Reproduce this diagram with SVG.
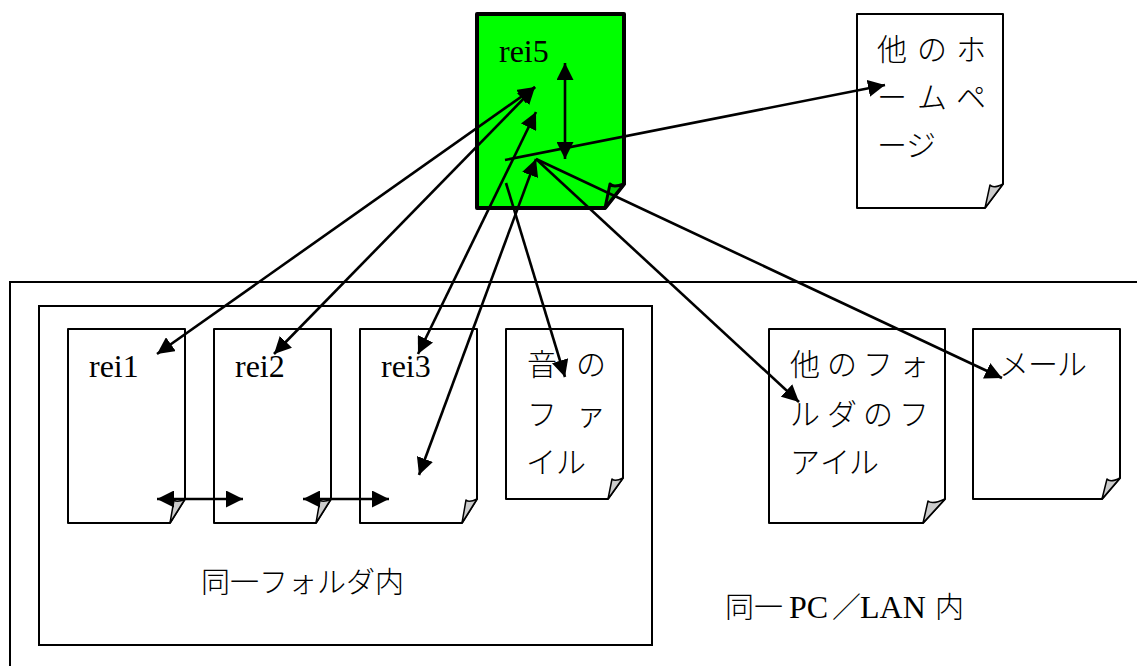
<svg xmlns="http://www.w3.org/2000/svg" width="1137" height="666" viewBox="0 0 1137 666">
<style>
.page{fill:#fff;stroke:#000;stroke-width:2;stroke-linejoin:round}
.fold{fill:#ccc;stroke:#000;stroke-width:1.5;stroke-linejoin:round}
.frame{fill:#fff;stroke:#000;stroke-width:2}
.conn{fill:none;stroke:#000;stroke-width:2.6}
text{font-size:28px;fill:#000;font-family:"Liberation Serif","Noto Sans CJK JP",serif}
.ja{font-family:"Noto Sans CJK JP",sans-serif;font-weight:300;font-size:30px}
.ja2{font-family:"Noto Sans CJK JP",sans-serif;font-weight:300;font-size:29px}
.la{font-size:32px}
</style>
<defs>
<marker id="h" markerUnits="userSpaceOnUse" markerWidth="18" markerHeight="17" refX="17" refY="8.5" orient="auto-start-reverse"><path d="M0 0L17 8.5L0 17Z" fill="#000"/></marker>
</defs>
<rect width="1137" height="666" fill="#fff"/>
<g id="lan-frame"><path class="frame" d="M1137 282H10V666" fill="none"/><text class="ja2" x="725" y="618">同一</text><text class="la" x="789" y="618">PC</text><text class="ja2" x="832" y="618">／</text><text class="la" x="860" y="618">LAN</text><text class="ja2" x="935" y="618">内</text></g>
<g id="folder-frame"><rect class="frame" x="39" y="306" width="613" height="339"/><text class="ja2" x="201" y="593">同一フォルダ内</text></g>
<g id="rei5"><path class="page" style="fill:#0f0;stroke-width:4" d="M477 14H624V184L605 208H477Z"/><path class="fold" style="fill:#0c0;stroke-width:3" d="M605 208L610 184Q613 188 624 184Z"/><text class="la" x="499" y="62">rei5</text></g>
<g id="other-homepage"><path class="page" d="M857 14H1003V184L985 208H857Z"/><path class="fold" d="M985 208L990 185Q993 189 1003 184Z"/><text class="ja"><tspan x="877" y="60">他</tspan><tspan x="917" y="60">の</tspan><tspan x="956" y="60">ホ</tspan><tspan x="877" y="108">ー</tspan><tspan x="917" y="108">ム</tspan><tspan x="956" y="108">ペ</tspan><tspan x="877" y="156">ー</tspan><tspan x="906" y="156">ジ</tspan></text></g>
<g id="rei1"><path class="page" d="M68 329H185V499L170 523H68Z"/><path class="fold" d="M170 523L174 500Q177 503 185 499Z"/><text class="la" x="89" y="377">rei1</text></g>
<g id="rei2"><path class="page" d="M214 329H331V499L316 523H214Z"/><path class="fold" d="M316 523L320 500Q323 503 331 499Z"/><text class="la" x="235" y="377">rei2</text></g>
<g id="rei3"><path class="page" d="M360 329H477V499L462 523H360Z"/><path class="fold" d="M462 523L466 500Q469 503 477 499Z"/><text class="la" x="381" y="377">rei3</text></g>
<g id="sound-file"><path class="page" d="M506 329H623V478L608 499H506Z"/><path class="fold" d="M608 499L612 479Q615 482 623 478Z"/><text class="ja"><tspan x="527" y="375">音</tspan><tspan x="576" y="375">の</tspan><tspan x="527" y="425">フ</tspan><tspan x="576" y="425">ァ</tspan><tspan x="526" y="473">イ</tspan><tspan x="556" y="473">ル</tspan></text></g>
<g id="other-folder-file"><path class="page" d="M769 329H945V499L923 523H769Z"/><path class="fold" d="M923 523L928 501Q932 505 945 499Z"/><text class="ja"><tspan x="790" y="375">他</tspan><tspan x="827" y="375">の</tspan><tspan x="863" y="375">フ</tspan><tspan x="899" y="375">ォ</tspan><tspan x="790" y="425">ル</tspan><tspan x="827" y="425">ダ</tspan><tspan x="863" y="425">の</tspan><tspan x="899" y="425">フ</tspan><tspan x="790" y="473">ア</tspan><tspan x="820" y="473">イ</tspan><tspan x="849" y="473">ル</tspan></text></g>
<g id="mail"><path class="page" d="M973 329H1120V478L1102 499H973Z"/><path class="fold" d="M1102 499L1107 479Q1110 483 1120 478Z"/><text class="ja"><tspan x="999" y="375">メ</tspan><tspan x="1028" y="375">ー</tspan><tspan x="1057" y="375">ル</tspan></text></g>
<g id="connectors">
<path class="conn" marker-start="url(#h)" marker-end="url(#h)" d="M157 354L535 87"/>
<path class="conn" marker-start="url(#h)" marker-end="url(#h)" d="M274 354L535 87"/>
<path class="conn" marker-start="url(#h)" marker-end="url(#h)" d="M418 354L536 112"/>
<path class="conn" marker-start="url(#h)" marker-end="url(#h)" d="M419 475L536 159"/>
<path class="conn" marker-end="url(#h)" d="M506 183L565 377"/>
<path class="conn" marker-end="url(#h)" d="M505 160L885 85"/>
<path class="conn" marker-start="url(#h)" marker-end="url(#h)" d="M565 63V159"/>
<path class="conn" marker-end="url(#h)" d="M536 159L799 402"/>
<path class="conn" marker-end="url(#h)" d="M536 159L1002 378"/>
<path class="conn" marker-start="url(#h)" marker-end="url(#h)" d="M157 499H243"/>
<path class="conn" marker-start="url(#h)" marker-end="url(#h)" d="M303 499H389"/>
</g>
</svg>
